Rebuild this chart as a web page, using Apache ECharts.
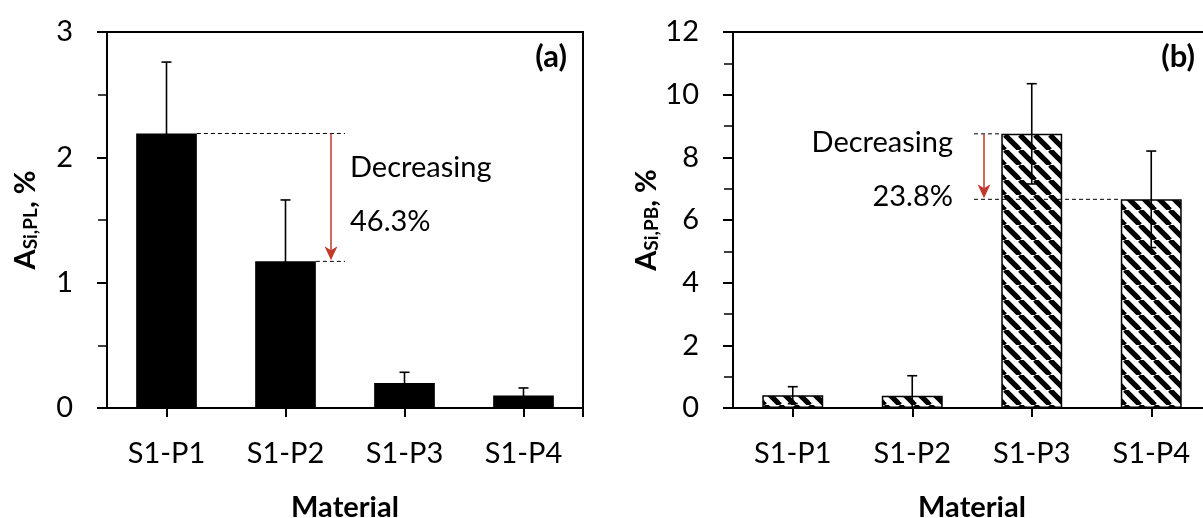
<!DOCTYPE html>
<html><head><meta charset="utf-8">
<script src="https://cdn.jsdelivr.net/npm/echarts@6/dist/echarts.min.js"></script>
<style>html,body{margin:0;padding:0;background:#fff}#c{width:1203px;height:518px}</style>
</head><body><div id="c"></div>
<script>
// ---- data ----
const categories = ['S1-P1', 'S1-P2', 'S1-P3', 'S1-P4'];
const plValues = [2.19, 1.17, 0.20, 0.10];
const plErrors = [0.57, 0.49, 0.085, 0.06];
const pbValues = [0.41, 0.39, 8.75, 6.66];
const pbErrors = [0.27, 0.64, 1.60, 1.54];
const plTicks = [0, 1, 2, 3];
const pbTicks = [0, 2, 4, 6, 8, 10, 12];
const plDropText = '46.3%';
const pbDropText = '23.8%';
const decreasingText = 'Decreasing';
const xTitle = 'Material';

const FONT = 'Lato';
const RED = '#C0392B';
const FS = 29;

function hatch() {
  const T = 15, c = document.createElement('canvas');
  c.width = T; c.height = T;
  const g = c.getContext('2d');
  g.fillStyle = '#fff'; g.fillRect(0, 0, T, T);
  g.strokeStyle = '#000'; g.lineWidth = 5.2;
  for (const o of [-T, 0, T]) { g.beginPath(); g.moveTo(o, 0); g.lineTo(o + T, T); g.stroke(); }
  return c;
}

function errRender(params, api) {
  const i = api.value(0), v = api.value(1), e = api.value(2);
  const top = api.coord([i, v + e]);
  const bot = api.coord([i, Math.max(0, v - e)]);
  const x = top[0], cw = 5;
  const st = { stroke: '#000', lineWidth: 1.6 };
  return { type: 'group', children: [
    { type: 'line', shape: { x1: x, y1: top[1], x2: x, y2: bot[1] }, style: st },
    { type: 'line', shape: { x1: x - cw, y1: top[1], x2: x + cw, y2: top[1] }, style: st },
    { type: 'line', shape: { x1: x - cw, y1: bot[1], x2: x + cw, y2: bot[1] }, style: st }
  ] };
}

function arrow(x, y1, y2) {
  return [
    { type: 'line', shape: { x1: x, y1: y1, x2: x, y2: y2 - 10 }, style: { stroke: RED, lineWidth: 1.5 } },
    { type: 'polygon', shape: { points: [[x, y2 - 1], [x - 6.5, y2 - 15], [x, y2 - 11], [x + 6.5, y2 - 15]] }, style: { fill: RED } }
  ];
}
const dashSt = { stroke: '#000', lineWidth: 1, lineDash: [4, 3] };
const txtSt = (t, x, y, align) => ({ type: 'text', style: { text: t, x: x, y: y, align: align, verticalAlign: 'middle', font: FS + 'px ' + FONT, fill: '#000' } });

function annoLeft(params, api) {
  const bw = api.size([1, 0])[0];
  const half = bw * 0.51 / 2;
  const p1 = api.coord([0, plValues[0]]);
  const p2 = api.coord([1, plValues[1]]);
  const xb = p2[0] + bw / 2; // boundary between P2 and P3
  const xa = xb - 14;
  const zero = api.coord([3, 0]);
  const topR = api.coord([3, plTicks[plTicks.length - 1]]);
  const xr = zero[0] + bw / 2;
  return { type: 'group', children: [
    { type: 'line', shape: { x1: p1[0] + half, y1: p1[1], x2: xb, y2: p1[1] }, style: dashSt },
    { type: 'line', shape: { x1: p2[0] + half, y1: p2[1], x2: xb, y2: p2[1] }, style: dashSt },
    ...arrow(xa, p1[1], p2[1]),
    txtSt(decreasingText, xb + 5, api.coord([1, 1.915])[1], 'left'),
    txtSt(plDropText, xb + 5, api.coord([1, 1.484])[1], 'left'),
    { type: 'line', shape: { x1: xr, y1: topR[1], x2: xr, y2: zero[1] + 9 }, style: { stroke: '#000', lineWidth: 2 } }
  ] };
}

function annoRight(params, api) {
  const bw = api.size([1, 0])[0];
  const half = bw * 0.51 / 2;
  const p3 = api.coord([2, pbValues[2]]);
  const p4 = api.coord([3, pbValues[3]]);
  const xb = p3[0] - bw / 2; // boundary between P2 and P3
  const xa = xb + 12;
  return { type: 'group', children: [
    { type: 'line', shape: { x1: xb + 2, y1: p3[1], x2: p3[0] - half, y2: p3[1] }, style: dashSt },
    { type: 'line', shape: { x1: xb + 2, y1: p4[1], x2: p4[0] - half, y2: p4[1] }, style: dashSt },
    ...arrow(xa, p3[1], p4[1]),
    txtSt(decreasingText, xb - 19, api.coord([2, 8.46])[1], 'right'),
    txtSt(pbDropText, xb - 19, api.coord([2, 6.73])[1], 'right')
  ] };
}

const axisLineSt = { show: true, lineStyle: { color: '#000', width: 2 } };
const labelSt = { fontFamily: FONT, fontSize: FS, color: '#000' };

function xAx(gi) {
  return {
    type: 'category', gridIndex: gi, data: categories,
    axisLine: axisLineSt,
    axisTick: { show: true, alignWithLabel: true, length: 9, lineStyle: { color: '#000', width: 2 } },
    axisLabel: Object.assign({ margin: 31 }, labelSt),
    name: xTitle, nameLocation: 'middle', nameGap: 85,
    nameTextStyle: { fontFamily: FONT, fontSize: FS, fontWeight: 'bold', color: '#000' }
  };
}
function yAx(gi, ticks, sub) {
  return {
    type: 'value', gridIndex: gi,
    min: ticks[0], max: ticks[ticks.length - 1], interval: ticks[1] - ticks[0],
    axisLine: axisLineSt,
    axisTick: { show: true, length: 10, lineStyle: { color: '#000', width: 2 } },
    minorTick: { show: true, splitNumber: 2, length: 9, lineStyle: { color: '#000', width: 1.5 } },
    splitLine: { show: false },
    axisLabel: Object.assign({ margin: 34 }, labelSt),
    name: '{m|A}{s|' + sub + '}{m|, %}', nameLocation: 'middle', nameGap: 67, nameRotate: 90,
    nameTextStyle: { rich: {
      m: { fontFamily: FONT, fontSize: FS, fontWeight: 'bold', color: '#000' },
      s: { fontFamily: FONT, fontSize: 19, fontWeight: 'bold', color: '#000', verticalAlign: 'bottom' }
    } }
  };
}

const chart = echarts.init(document.getElementById('c'), null, { renderer: 'canvas' });
chart.setOption({
  animation: false,
  backgroundColor: '#fff',
  title: [
    { text: '(a)', right: 636, top: 41, padding: 0, textStyle: { fontFamily: FONT, fontSize: 31, fontWeight: 'bold', color: '#000' } },
    { text: '(b)', right: 8, top: 41, padding: 0, textStyle: { fontFamily: FONT, fontSize: 31, fontWeight: 'bold', color: '#000' } }
  ],
  grid: [
    { left: 107, top: 32, width: 476, height: 376, show: true, borderColor: '#000', borderWidth: 2, containLabel: false, outerBoundsMode: 'none' },
    { left: 733, top: 32, width: 478, height: 376, show: true, borderColor: '#000', borderWidth: 2, containLabel: false, outerBoundsMode: 'none' }
  ],
  xAxis: [xAx(0), xAx(1)],
  yAxis: [yAx(0, plTicks, 'Si,PL'), yAx(1, pbTicks, 'Si,PB')],
  series: [
    { type: 'bar', xAxisIndex: 0, yAxisIndex: 0, data: plValues, barWidth: '51%',
      itemStyle: { color: '#000' } },
    { type: 'custom', xAxisIndex: 0, yAxisIndex: 0, renderItem: errRender, z: 5,
      data: categories.map((c, i) => [i, plValues[i], plErrors[i]]) },
    { type: 'custom', xAxisIndex: 0, yAxisIndex: 0, renderItem: annoLeft, z: 6, clip: false,
      data: [[0, 0]] },
    { type: 'bar', xAxisIndex: 1, yAxisIndex: 1, data: pbValues, barWidth: '51%',
      itemStyle: { color: { image: hatch(), repeat: 'repeat' }, borderColor: '#000', borderWidth: 1.5 } },
    { type: 'custom', xAxisIndex: 1, yAxisIndex: 1, renderItem: errRender, z: 5,
      data: categories.map((c, i) => [i, pbValues[i], pbErrors[i]]) },
    { type: 'custom', xAxisIndex: 1, yAxisIndex: 1, renderItem: annoRight, z: 6, clip: false,
      data: [[0, 0]] }
  ]
});
</script></body></html>
